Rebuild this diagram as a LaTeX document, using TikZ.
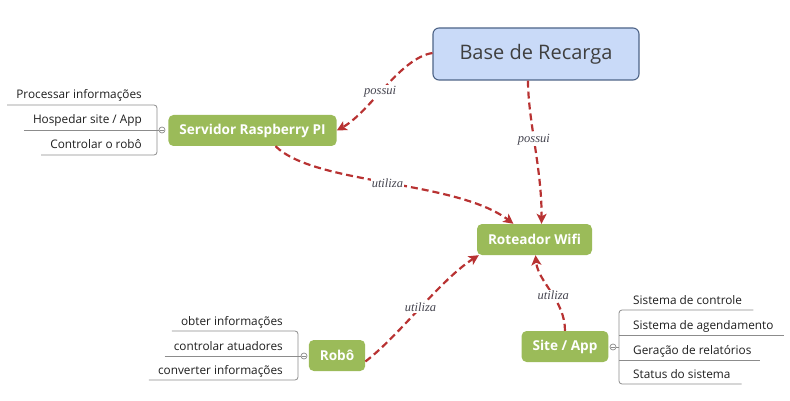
\documentclass[tikz,border=0pt]{standalone}
\usepackage{fontspec}
\setmainfont{Open Sans}
\newfontfamily\relfont{Liberation Serif}
\usetikzlibrary{arrows.meta}
\definecolor{topicgreen}{HTML}{9BBB59}
\definecolor{basefill}{HTML}{C9DAF8}
\definecolor{baseedge}{HTML}{4E6487}
\definecolor{basetext}{HTML}{3F3F3F}
\definecolor{relred}{HTML}{B83232}
\definecolor{twiggray}{HTML}{8C8C8C}
\definecolor{leaftext}{HTML}{1E1E1E}
\definecolor{lblgray}{HTML}{44444F}
\begin{document}
\begin{tikzpicture}[x=1pt, y=-1pt,
    central/.style={rectangle, draw=baseedge, line width=1.1pt, fill=basefill, text=basetext, rounded corners=6pt, minimum height=52pt, minimum width=206pt, font=\fontsize{20}{24}\selectfont},
    topic/.style={rectangle, fill=topicgreen, text=white, rounded corners=5pt, minimum height=31pt, inner xsep=11pt, font=\bfseries\fontsize{13.6}{16}\selectfont},
    leaf/.style={inner sep=0pt, text=leaftext, font=\fontsize{11.8}{14}\selectfont},
    knob/.style={circle, draw=twiggray, fill=white, line width=0.7pt, minimum size=6pt, inner sep=0pt},
    twig/.style={draw=twiggray, line width=0.8pt, rounded corners=3pt},
    rel/.style={draw=relred, line width=2.2pt, dash pattern=on 7pt off 4pt, -{Stealth[length=10pt, width=10pt, inset=2.5pt]}},
    lbl/.style={fill=white, inner sep=1pt, text=lblgray, font=\relfont\itshape\fontsize{12.5}{14}\selectfont}
]
    \useasboundingbox (0,0) rectangle (790,401);

    % main topics
    \node [central] (base) at (536,54) {Base de Recarga};
    \node [topic] (srv) at (252.5,130.5) {Servidor Raspberry PI};
    \node [topic] (rot) at (534.5,239.5) {Roteador Wifi};
    \node [topic] (robo) at (337,355.5) {Robô};
    \node [topic] (site) at (565,346.5) {Site / App};

    % collapse knobs
    \node [knob] (srvknob) at (162,130) {};
    \node [knob] (roboknob) at (304,356) {};
    \node [knob] (siteknob) at (613,347) {};
    \foreach \k in {srvknob, roboknob, siteknob}
        \draw [twiggray, line width=0.7pt] ([xshift=-1.6pt]\k.center) -- ([xshift=1.6pt]\k.center);

    % subtopics of the server
    \node [leaf, anchor=base east] (srv1) at (142,99) {Processar informações};
    \node [leaf, anchor=base east] (srv2) at (142,124) {Hospedar site / App};
    \node [leaf, anchor=base east] (srv3) at (142,149) {Controlar o robô};
    \draw [twig] ([xshift=-9pt, yshift=-6pt]srv1.base west) -| ([xshift=-5pt]srvknob.center) |- ([xshift=-9pt, yshift=-6pt]srv3.base west);
    \draw [twig] ([xshift=-9pt, yshift=-6pt]srv2.base west) -- (srvknob.west);

    % subtopics of the robot
    \node [leaf, anchor=base east] (robo1) at (283,325) {obter informações};
    \node [leaf, anchor=base east] (robo2) at (283,350) {controlar atuadores};
    \node [leaf, anchor=base east] (robo3) at (283,374) {converter informações};
    \draw [twig] ([xshift=-9pt, yshift=-6pt]robo1.base west) -| ([xshift=-6pt]roboknob.center) |- ([xshift=-9pt, yshift=-6pt]robo3.base west);
    \draw [twig] ([xshift=-9pt, yshift=-6pt]robo2.base west) -- (roboknob.west);

    % subtopics of the site
    \node [leaf, anchor=base west] (site1) at (633,304) {Sistema de controle};
    \node [leaf, anchor=base west] (site2) at (633,329) {Sistema de agendamento};
    \node [leaf, anchor=base west] (site3) at (633,354) {Geração de relatórios};
    \node [leaf, anchor=base west] (site4) at (633,378) {Status do sistema};
    \draw [twig] ([xshift=11pt, yshift=-6pt]site1.base east) -| ([xshift=6pt]siteknob.center) |- ([xshift=11pt, yshift=-6pt]site4.base east);
    \draw [twig] ([xshift=-14pt, yshift=-6pt]site2.base west) -- ([xshift=10pt, yshift=-6pt]site2.base east);
    \draw [twig] ([xshift=-14pt, yshift=-6pt]site3.base west) -- ([xshift=8pt, yshift=-6pt]site3.base east);
    \draw [twig] (siteknob.east) -- ([xshift=6pt]siteknob.center);

    % relationships
    \draw [rel] ([yshift=1pt]base.west) .. controls (400,58) and (370,112) .. (srv.east) node [lbl, pos=0.55] {possui};
    \draw [rel] ([xshift=-8pt]base.south) .. controls (528,120) and (542,170) .. ([xshift=7pt]rot.north) node [lbl, pos=0.45] {possui};
    \draw [rel] ([xshift=23pt]srv.south) .. controls (315,185) and (455,180) .. ([xshift=-21pt]rot.north) node [lbl, pos=0.5] {utiliza};
    \draw [rel] ([yshift=-6pt]robo.east) .. controls (400,335) and (440,280) .. ([xshift=2pt]rot.south west) node [lbl, pos=0.5] {utiliza};
    \draw [rel] (site.north) .. controls (565,300) and (538,282) .. ([xshift=1pt]rot.south) node [lbl, pos=0.45] {utiliza};
\end{tikzpicture}
\end{document}
